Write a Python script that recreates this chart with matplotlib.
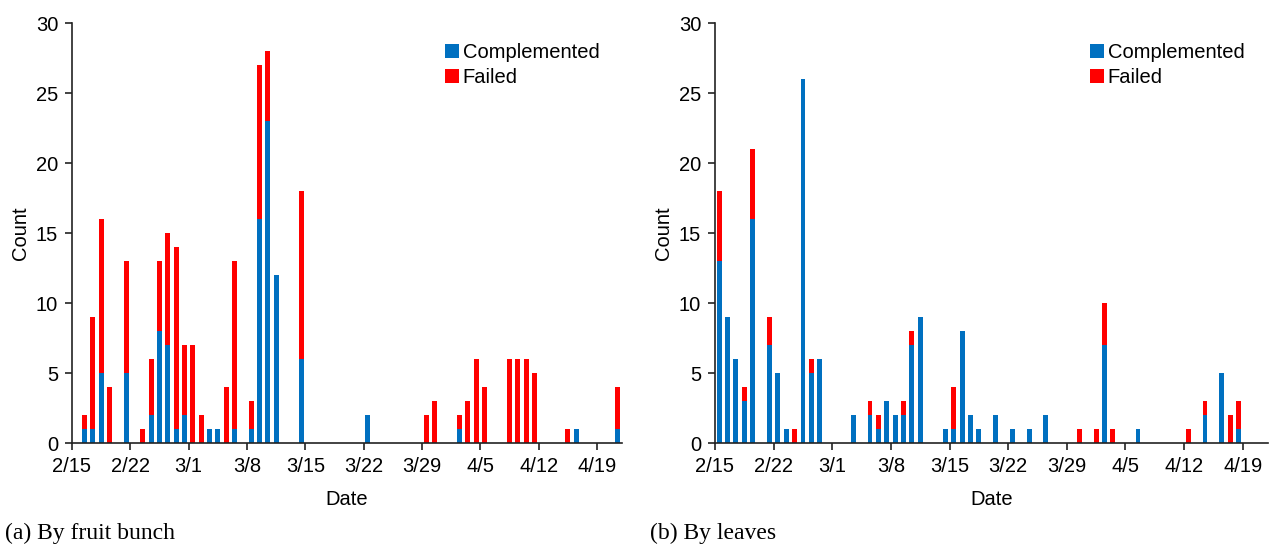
import datetime
import matplotlib
matplotlib.use("Agg")
import matplotlib.pyplot as plt
import matplotlib.dates as mdates
from matplotlib.ticker import FuncFormatter, FixedLocator, MultipleLocator

YEAR = 2021
BLUE = "#0070C0"
RED = "#FF0000"

# (a) by fruit bunch
bunch_dates = ["2/16", "2/17", "2/18", "2/19", "2/21", "2/23", "2/24",
               "2/25", "2/26", "2/27", "2/28", "3/1", "3/2", "3/3",
               "3/4", "3/5", "3/6", "3/8", "3/9", "3/10", "3/11", "3/14",
               "3/22", "3/29", "3/30", "4/2", "4/3", "4/4", "4/5", "4/8",
               "4/9", "4/10", "4/11", "4/15", "4/16", "4/21"]
bunch_comp = [1, 1, 5, 0, 5, 0, 2, 8, 7, 1, 2, 0, 0, 1, 1, 0, 1, 1, 16,
              23, 12, 6, 2, 0, 0, 1, 0, 0, 0, 0, 0, 0, 0, 0, 1, 1]
bunch_fail = [1, 8, 11, 4, 8, 1, 4, 5, 8, 13, 5, 7, 2, 0, 0, 4, 12, 2,
              11, 5, 0, 12, 0, 2, 3, 1, 3, 6, 4, 6, 6, 6, 5, 1, 0, 3]

# (b) by leaves
leaf_dates = ["2/15", "2/16", "2/17", "2/18", "2/19", "2/21", "2/22",
              "2/23", "2/24", "2/25", "2/26", "2/27", "3/3", "3/5", "3/6",
              "3/7", "3/8", "3/9", "3/10", "3/11", "3/14", "3/15", "3/16",
              "3/17", "3/18", "3/20", "3/22", "3/24", "3/26", "3/30",
              "4/1", "4/2", "4/3", "4/6", "4/12", "4/14", "4/16", "4/17",
              "4/18"]
leaf_comp = [13, 9, 6, 3, 16, 7, 5, 1, 0, 26, 5, 6, 2, 2, 1, 3, 2, 2, 7,
             9, 1, 1, 8, 2, 1, 2, 1, 1, 2, 0, 0, 7, 0, 1, 0, 2, 5, 0, 1]
leaf_fail = [5, 0, 0, 1, 5, 2, 0, 0, 1, 0, 1, 0, 0, 1, 1, 0, 0, 1, 1, 0,
             0, 3, 0, 0, 0, 0, 0, 0, 0, 1, 1, 3, 1, 0, 1, 1, 0, 2, 2]

start = mdates.date2num(datetime.date(YEAR, 2, 15))
FS = 14.5


def to_num(labels):
    out = []
    for lab in labels:
        m, d = lab.split("/")
        out.append(mdates.date2num(datetime.date(YEAR, int(m), int(d))))
    return out


def md_label(x, pos):
    d = mdates.num2date(x)
    return "{0}/{1}".format(d.month, d.day)


def panel(ax, dates, comp, fail):
    x = [v + 0.5 for v in to_num(dates)]
    ax.bar(x, comp, width=0.58, color=BLUE, label="Complemented")
    ax.bar(x, fail, width=0.58, bottom=comp, color=RED, label="Failed")
    ax.set_xlim(start, start + 66)
    ax.set_ylim(0, 30)
    ax.xaxis.set_major_locator(FixedLocator([start + 7 * k
                                             for k in range(10)]))
    ax.xaxis.set_major_formatter(FuncFormatter(md_label))
    ax.yaxis.set_major_locator(MultipleLocator(5))
    for side in ("top", "right"):
        ax.spines[side].set_visible(False)
    for side in ("left", "bottom"):
        ax.spines[side].set_linewidth(1.2)
        ax.spines[side].set_color("#222222")
    ax.tick_params(direction="out", length=5, width=1.2,
                   labelsize=FS, color="#222222", pad=5)
    ax.set_xlabel("Date", fontsize=FS, labelpad=10)
    ax.set_ylabel("Count", fontsize=FS, labelpad=4)
    ax.legend(loc="upper left", bbox_to_anchor=(0.652, 0.985),
              frameon=False, fontsize=FS, handlelength=0.7,
              handleheight=0.7, handletextpad=0.2, labelspacing=0.3,
              borderaxespad=0.3)


plt.rcParams["font.family"] = ["Liberation Sans", "DejaVu Sans"]
fig = plt.figure(figsize=(12.74, 5.46), dpi=100)
ax1 = fig.add_axes([0.0565, 0.1886, 0.4317, 0.7692])
ax2 = fig.add_axes([0.5612, 0.1886, 0.434, 0.7692])
panel(ax1, bunch_dates, bunch_comp, bunch_fail)
panel(ax2, leaf_dates, leaf_comp, leaf_fail)

fig.text(0.004, 1 - 533 / 546, "(a) By fruit bunch", va="center",
         fontsize=17, family="Liberation Serif")
fig.text(0.51, 1 - 533 / 546, "(b) By leaves", va="center",
         fontsize=17, family="Liberation Serif")

fig.savefig("out.png", dpi=100)
